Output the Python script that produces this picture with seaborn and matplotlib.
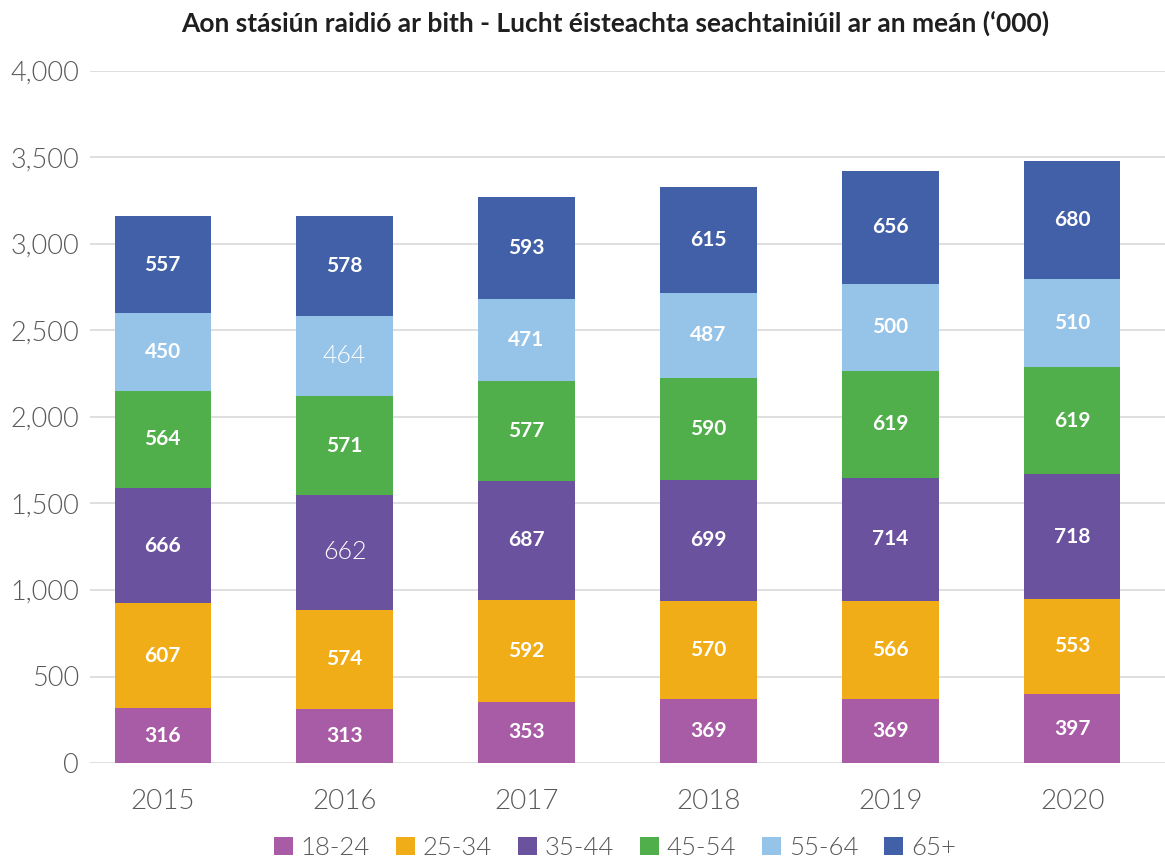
import matplotlib
matplotlib.use("Agg")
import matplotlib.pyplot as plt
from matplotlib.patches import Patch
import numpy as np
import pandas as pd
import seaborn as sns

years = ["2015", "2016", "2017", "2018", "2019", "2020"]
groups = ["18-24", "25-34", "35-44", "45-54", "55-64", "65+"]
v_18_24 = [316, 313, 353, 369, 369, 397]
v_25_34 = [607, 574, 592, 570, 566, 553]
v_35_44 = [666, 662, 687, 699, 714, 718]
v_45_54 = [564, 571, 577, 590, 619, 619]
v_55_64 = [450, 464, 471, 487, 500, 510]
v_65 = [557, 578, 593, 615, 656, 680]
colors = ["#a85ca6", "#f1ad17", "#6b529f", "#50ae4b", "#96c3e8", "#4260a8"]

title = "Aon stásiún raidió ar bith - Lucht éisteachta seachtainiúil ar an meán (‘000)"

sns.set_style("white")
plt.rcParams["font.family"] = ["Lato", "DejaVu Sans"]

data = pd.DataFrame({"year": years, "18-24": v_18_24, "25-34": v_25_34,
                     "35-44": v_35_44, "45-54": v_45_54, "55-64": v_55_64,
                     "65+": v_65})
cum = data[groups].cumsum(axis=1)
cum["year"] = data["year"]

fig = plt.figure(figsize=(11.65, 8.63), dpi=100)
ax = fig.add_axes([90 / 1165, 100 / 863, 1 - 90 / 1165, 692 / 863])

# draw cumulative totals from the top layer down so they overlap into a stack
for g, c in reversed(list(zip(groups, colors))):
    sns.barplot(data=cum, x="year", y=g, color=c, width=0.53,
                saturation=1, ax=ax, zorder=3, linewidth=0)

# segment labels
for i, y in enumerate(years):
    base = 0
    for g in groups:
        val = data.loc[i, g]
        mid = base + val / 2
        base += val
        plain = (y == "2016" and g in ("35-44", "55-64"))
        ax.text(i, mid, f"{val:,}", ha="center", va="center",
                fontsize=18 if plain else 15,
                fontweight=300 if plain else "bold",
                color="white", zorder=5)

ax.set_ylim(0, 4000)
ax.set_xlim(-0.4, 5.51)
ax.set_yticks(np.arange(0, 4001, 500))
ax.yaxis.set_major_formatter(matplotlib.ticker.StrMethodFormatter("{x:,.0f}"))
ax.grid(axis="y", color="#d9d9d9", linewidth=1.2, zorder=0)
ax.grid(axis="x", visible=False)
ax.set_axisbelow(True)
for s in ax.spines.values():
    s.set_visible(False)
ax.set_xlabel("")
ax.set_ylabel("")
ax.tick_params(axis="y", length=0, pad=8, labelsize=19.5, labelcolor="#595959")
ax.tick_params(axis="x", length=0, pad=19, labelsize=20, labelcolor="#595959")
for lab in ax.get_xticklabels() + ax.get_yticklabels():
    lab.set_fontweight(300)

fig.text(615 / 1165, 1 - 23 / 863, title, ha="center", va="center",
         fontsize=19, fontweight="bold", color="#1f1f1f")

handles = [Patch(facecolor=c, edgecolor="none", label=g) for g, c in zip(groups, colors)]
leg = fig.legend(handles=handles, loc="center", bbox_to_anchor=(615 / 1165, 1 - 848 / 863),
                 ncol=6, frameon=False, fontsize=18.5, handlelength=0.75, handleheight=0.75,
                 handletextpad=0.3, columnspacing=1.0, labelcolor="#595959")
for t in leg.get_texts():
    t.set_fontweight(300)

fig.savefig("out.png", dpi=100)
